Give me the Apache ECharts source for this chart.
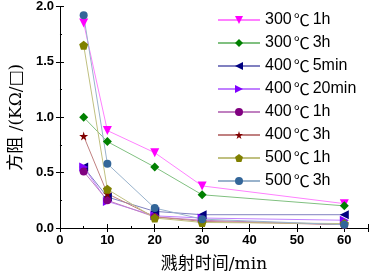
<!DOCTYPE html>
<html>
<head>
<meta charset="utf-8">
<script src="https://cdn.jsdelivr.net/npm/echarts@6/dist/echarts.min.js"></script>
<style>
  html, body {margin: 0; padding: 0; background: #fff;}
  #chart {width: 370px; height: 278px;}
</style>
</head>
<body>
<div id="chart"></div>
<script>
const times = [5, 10, 20, 30, 60];
const names = ['300℃1h', '300℃3h', '400℃5min', '400℃20min', '400℃1h', '400℃3h', '500℃1h', '500℃3h'];
const s300_1h = [1.85, 0.88, 0.68, 0.38, 0.22];
const s300_3h = [1.00, 0.78, 0.55, 0.30, 0.20];
const s400_5min = [0.55, 0.28, 0.15, 0.12, 0.12];
const s400_20min = [0.55, 0.24, 0.11, 0.09, 0.07];
const s400_1h = [0.51, 0.25, 0.10, 0.07, 0.03];
const s400_3h = [0.83, 0.31, 0.10, 0.06, 0.03];
const s500_1h = [1.65, 0.35, 0.09, 0.05, 0.04];
const s500_3h = [1.92, 0.58, 0.18, 0.08, 0.03];

const star = 'path://M50,0 L61,35 L98,35 L68,57 L79,91 L50,70 L21,91 L32,57 L2,35 L39,35 Z';
const pentagon = 'path://M50,0 L98,35 L79,91 L21,91 L2,35 Z';

const styles = [
  {data: s300_1h, color: '#ff00ff', line: '#ff80ff', symbol: 'triangle', rot: 180, size: 9},
  {data: s300_3h, color: '#008000', line: '#80c080', symbol: 'diamond', rot: 0, size: 9},
  {data: s400_5min, color: '#000080', line: '#8080c0', symbol: 'triangle', rot: 90, size: 9},
  {data: s400_20min, color: '#8000ff', line: '#c080ff', symbol: 'triangle', rot: -90, size: 9},
  {data: s400_1h, color: '#800080', line: '#c080c0', symbol: 'circle', rot: 0, size: 8},
  {data: s400_3h, color: '#800000', line: '#c08080', symbol: star, rot: 0, size: 9},
  {data: s500_1h, color: '#808000', line: '#c0c080', symbol: pentagon, rot: 0, size: 9},
  {data: s500_3h, color: '#336699', line: '#99b3cc', symbol: 'circle', rot: 0, size: 8}
];

const chart = echarts.init(document.getElementById('chart'));
const sans = 'Arial, "Liberation Sans"';
const tickFont = {fontFamily: sans, fontWeight: 'bold', fontSize: 13, color: '#000'};
const axisLine = {show: true, lineStyle: {color: '#000', width: 1}};
chart.setOption({
  animation: false,
  grid: {left: 51, top: 6, right: 2, bottom: 48},
  legend: {
    orient: 'vertical',
    left: 217,
    top: 11,
    padding: 0,
    itemWidth: 42,
    itemHeight: 10,
    itemGap: 5,
    itemTextGap: 6,
    formatter: n => n.replace('℃', '{c|℃}'),
    textStyle: {
      fontFamily: sans, fontSize: 16, lineHeight: 18, color: '#000',
      rich: {c: {fontFamily: '"Noto Sans CJK SC"', fontSize: 16, lineHeight: 18, color: '#000', padding: [0, 3, 0, 2]}}
    },
    data: names
  },
  xAxis: [{
    type: 'value', min: 0, max: 65, interval: 10,
    axisLine: axisLine,
    axisTick: {inside: true, length: 4, lineStyle: {color: '#000'}},
    minorTick: {show: true, splitNumber: 2, length: 2, lineStyle: {color: '#000'}},
    splitLine: {show: false},
    axisLabel: Object.assign({margin: 6, showMaxLabel: false}, tickFont),
    name: '溅射时间/min',
    nameLocation: 'middle',
    nameGap: 28,
    nameTextStyle: {fontFamily: '"DejaVu Serif", "Noto Sans CJK SC"', fontSize: 17, color: '#000'}
  }, {
    type: 'value', position: 'top', min: 0, max: 65, interval: 10,
    axisLine: axisLine,
    axisTick: {inside: true, length: 4, lineStyle: {color: '#000'}},
    splitLine: {show: false},
    axisLabel: {show: false}
  }],
  yAxis: [{
    type: 'value', min: 0, max: 2, interval: 0.5,
    axisLine: axisLine,
    axisTick: {inside: true, length: 4, lineStyle: {color: '#000'}},
    minorTick: {show: true, splitNumber: 2, length: 2, lineStyle: {color: '#000'}},
    splitLine: {show: false},
    axisLabel: Object.assign({margin: 6, formatter: v => v.toFixed(1)}, tickFont),
    name: '方阻 /(KΩ/□)',
    nameLocation: 'middle',
    nameGap: 30,
    nameTextStyle: {fontFamily: '"DejaVu Serif", "Noto Sans CJK SC"', fontSize: 17, color: '#000'}
  }, {
    type: 'value', position: 'right', min: 0, max: 2, interval: 0.5,
    axisLine: axisLine,
    axisTick: {inside: true, length: 4, lineStyle: {color: '#000'}},
    splitLine: {show: false},
    axisLabel: {show: false}
  }],
  series: styles.map((s, i) => ({
    name: names[i],
    type: 'line',
    data: times.map((t, j) => [t, s.data[j]]),
    symbol: s.symbol,
    symbolRotate: s.rot,
    symbolSize: s.size,
    showAllSymbol: true,
    itemStyle: {color: s.color},
    lineStyle: {color: s.line, width: 1}
  }))
});
</script>
</body>
</html>
